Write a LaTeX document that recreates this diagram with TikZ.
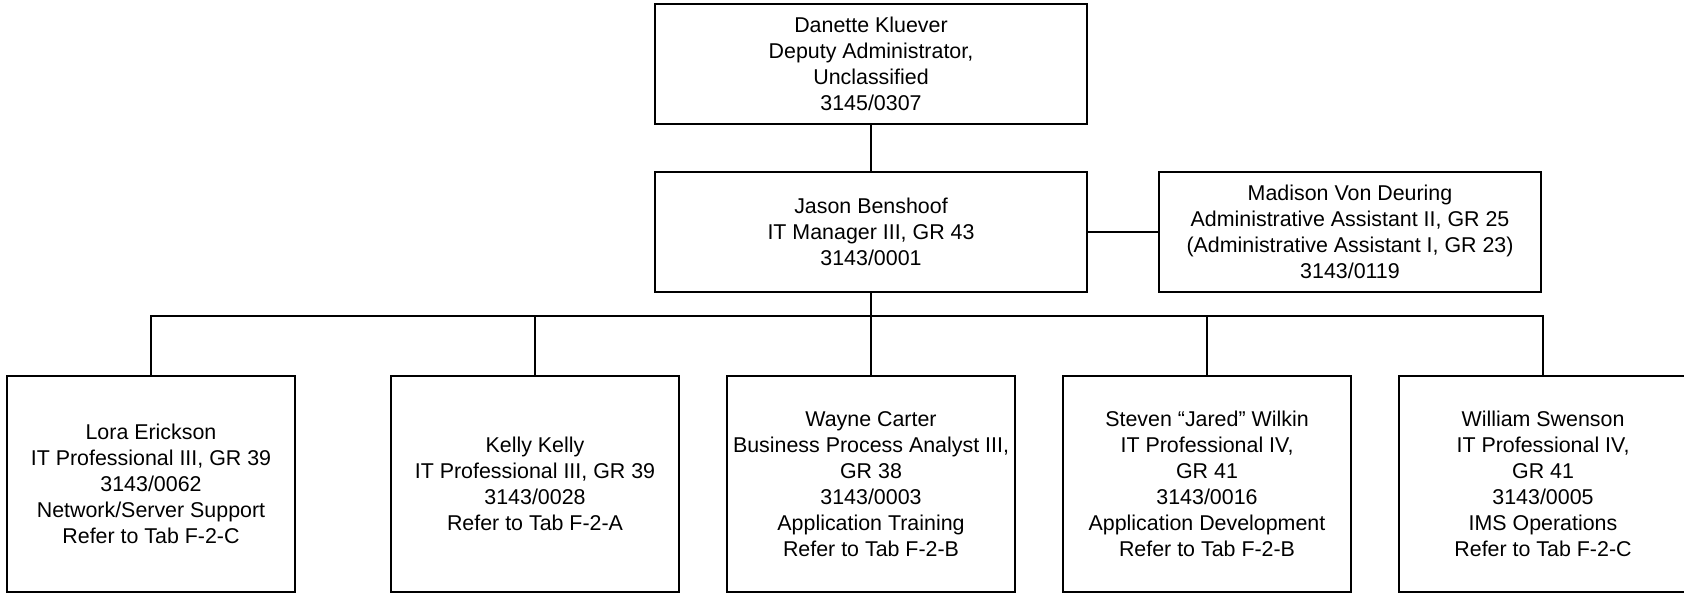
\documentclass[tikz,border=0pt]{standalone}
\usepackage{fontspec}
\setmainfont{Liberation Sans}
\usepackage{tikz}
\tikzset{
    staffbox/.style={
        draw, line width=0.7pt, align=center, inner sep=2pt,
        font=\fontsize{10.7}{13}\selectfont
    },
    headbox/.style={staffbox, minimum width=216pt, minimum height=60pt},
    teambox/.style={staffbox, minimum width=144pt, minimum height=108pt},
    orgline/.style={line width=0.7pt}
}

\begin{document}
\begin{tikzpicture}[x=0.5pt, y=-0.5pt]
	
	\useasboundingbox (0,0) rectangle (1684,595);
    
    \node[headbox] (kluever) at (871,64)
    {Danette Kluever\\ Deputy Administrator,\\ Unclassified\\ 3145/0307};
    
    \node[headbox] (benshoof) at (871,232)
    {Jason Benshoof\\ IT Manager III, GR 43\\ 3143/0001};
    
    \node[staffbox, minimum width=191pt, minimum height=60pt] (deuring) at (1350,232)
    {Madison Von Deuring\\ Administrative Assistant II, GR 25\\ (Administrative Assistant I, GR 23)\\ 3143/0119};
    
    \node[teambox] (erickson) at (151,484)
    {Lora Erickson\\ IT Professional III, GR 39\\ 3143/0062\\ Network/Server Support\\ Refer to Tab F-2-C};
    
    \node[teambox] (kelly) at (535,484)
    {Kelly Kelly\\ IT Professional III, GR 39\\ 3143/0028\\ Refer to Tab F-2-A};
    
    \node[teambox] (carter) at (871,484)
    {Wayne Carter\\ Business Process Analyst III,\\ GR 38\\ 3143/0003\\ Application Training\\ Refer to Tab F-2-B};
    
    \node[teambox] (wilkin) at (1207,484)
    {Steven “Jared” Wilkin\\ IT Professional IV,\\ GR 41\\ 3143/0016\\ Application Development\\ Refer to Tab F-2-B};
    
    \node[teambox] (swenson) at (1543,484)
    {William Swenson\\ IT Professional IV,\\ GR 41\\ 3143/0005\\ IMS Operations\\ Refer to Tab F-2-C};
    
    \coordinate (bus) at (871,316);
    
    \draw[orgline] (kluever) -- (benshoof);
    
    \draw[orgline] (benshoof) -- (deuring);
    
    \draw[orgline] (benshoof) -- (bus);
    
    \foreach \staff in {erickson, kelly, carter, wilkin, swenson}
    \draw[orgline] (bus) -| (\staff.north);
	
	\end{tikzpicture}
\end{document}
